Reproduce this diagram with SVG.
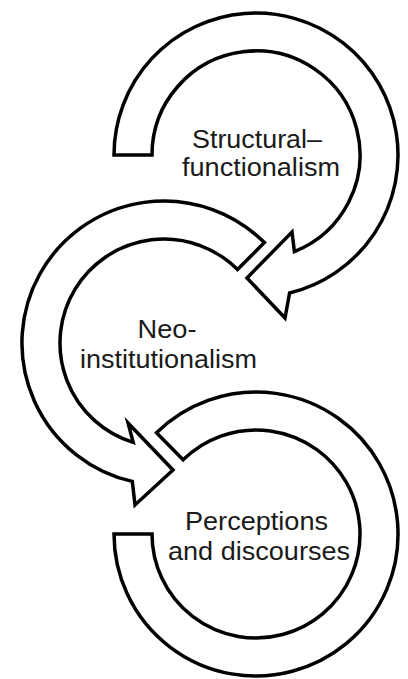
<svg xmlns="http://www.w3.org/2000/svg" width="408" height="679" viewBox="0 0 408 679">
<style>
.band{fill:#fff;stroke:#000;stroke-width:3.5;stroke-linejoin:miter;stroke-miterlimit:10}
.lbl{font-family:"Liberation Sans",Arial,Helvetica,sans-serif;font-size:25px;fill:#1a1a1a;text-anchor:middle}
</style>
<rect width="408" height="679" fill="#fff"/>
<g id="connectors">
<path id="arrow-structural" class="band" d="M114,155 A142,142 0 1 1 289.6,293 L285,318 L247,278 L292,232 L294.4,251.6 A104,104 0 1 0 152,155 Z"/>
<path id="arrow-neo" class="band" d="M264.4,242.6 A142,142 0 1 0 132.3,481.4 L135,505 L173,470 L128,423 L133.2,442.4 A104,104 0 1 1 237.5,269.5 Z"/>
<path id="ring-perceptions" class="band" d="M114,534 A142,142 0 1 0 156.5,432.7 L183.1,459.8 A104,104 0 1 1 152,534 Z"/>
</g>
<g id="node-structural">
<text class="lbl" x="257" y="148" textLength="130" lengthAdjust="spacingAndGlyphs">Structural–</text>
<text class="lbl" x="261" y="176" textLength="158" lengthAdjust="spacingAndGlyphs">functionalism</text>
</g>
<g id="node-neo">
<text class="lbl" x="167" y="338" textLength="59" lengthAdjust="spacingAndGlyphs">Neo-</text>
<text class="lbl" x="168.5" y="368" textLength="177" lengthAdjust="spacingAndGlyphs">institutionalism</text>
</g>
<g id="node-perceptions">
<text class="lbl" x="256.5" y="530" textLength="143" lengthAdjust="spacingAndGlyphs">Perceptions</text>
<text class="lbl" x="259" y="560" textLength="182" lengthAdjust="spacingAndGlyphs">and discourses</text>
</g>
</svg>
